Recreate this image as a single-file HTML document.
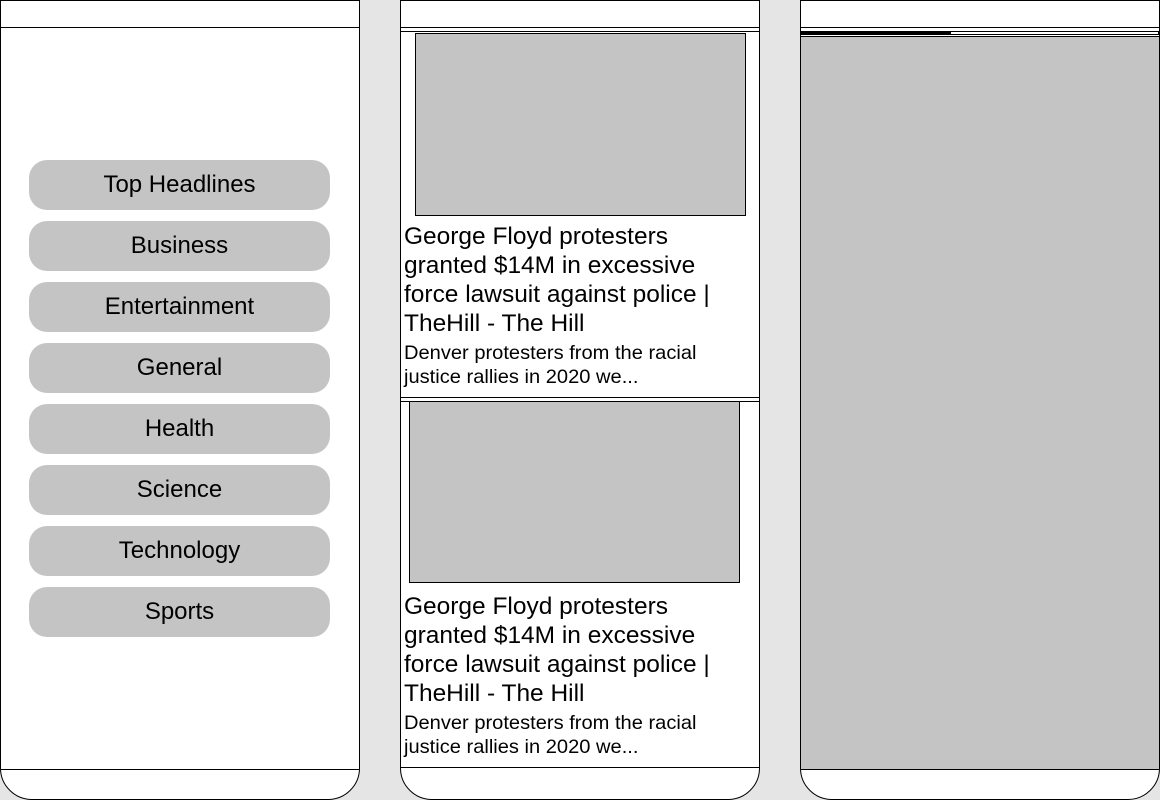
<!DOCTYPE html>
<html><head><style>
*{margin:0;padding:0;box-sizing:border-box}
body{width:1160px;height:800px;background:#e5e5e5;position:relative;overflow:hidden;font-family:"Liberation Sans",sans-serif;color:#000}
.p{position:absolute;top:0;width:360px;height:800px;background:#fff;border:1px solid #000;border-radius:0 0 32px 32px;overflow:hidden}
.a{position:absolute}
.hl{position:absolute;left:0;right:0;height:0;border-top:1px solid #000}
.btn{position:absolute;left:28px;width:301px;height:50px;background:#c4c4c4;border-radius:18px;font-size:24px;text-align:center;line-height:50px}
.img{position:absolute;background:#c4c4c4;border:1px solid #000}
.t{position:absolute;left:3px;font-size:24px;line-height:29px;white-space:nowrap;transform:scaleX(1.02);transform-origin:0 0}
.d{position:absolute;left:3px;font-size:19.5px;line-height:24px;white-space:nowrap;transform:scaleX(1.03);transform-origin:0 0}
</style></head><body>
<div class="p" style="left:0">
 <div class="hl" style="top:26px"></div>
 <div class="btn" style="top:159px">Top Headlines</div>
 <div class="btn" style="top:220px">Business</div>
 <div class="btn" style="top:281px">Entertainment</div>
 <div class="btn" style="top:342px">General</div>
 <div class="btn" style="top:403px">Health</div>
 <div class="btn" style="top:464px">Science</div>
 <div class="btn" style="top:525px">Technology</div>
 <div class="btn" style="top:586px">Sports</div>
 <div class="hl" style="top:768px"></div>
</div>
<div class="p" style="left:400px">
 <div class="hl" style="top:26px"></div>
 <div class="hl" style="top:30px"></div>
 <div class="img" style="left:14px;top:32px;width:331px;height:183px"></div>
 <div class="t" style="top:221px">George Floyd protesters<br>granted $14M in excessive<br>force lawsuit against police |<br>TheHill - The Hill</div>
 <div class="d" style="top:340px">Denver protesters from the racial<br>justice rallies in 2020 we...</div>
 <div class="hl" style="top:396px"></div>
 <div class="hl" style="top:400px"></div>
 <div class="img" style="left:8px;top:400px;width:331px;height:182px"></div>
 <div class="t" style="top:591px">George Floyd protesters<br>granted $14M in excessive<br>force lawsuit against police |<br>TheHill - The Hill</div>
 <div class="d" style="top:710px">Denver protesters from the racial<br>justice rallies in 2020 we...</div>
 <div class="hl" style="top:766px"></div>
</div>
<div class="p" style="left:800px">
 <div class="hl" style="top:26px"></div>
 <div class="a" style="left:0;top:30px;width:150px;height:4px;background:#000"></div>
 <div class="a" style="left:150px;top:30px;width:208px;height:4px;border:1px solid #000;border-left:none;background:#fff"></div>
 <div class="a" style="left:0;top:35px;width:360px;height:734px;background:#c4c4c4;border-top:1px solid #000;border-bottom:1px solid #000"></div>
</div>
</body></html>
